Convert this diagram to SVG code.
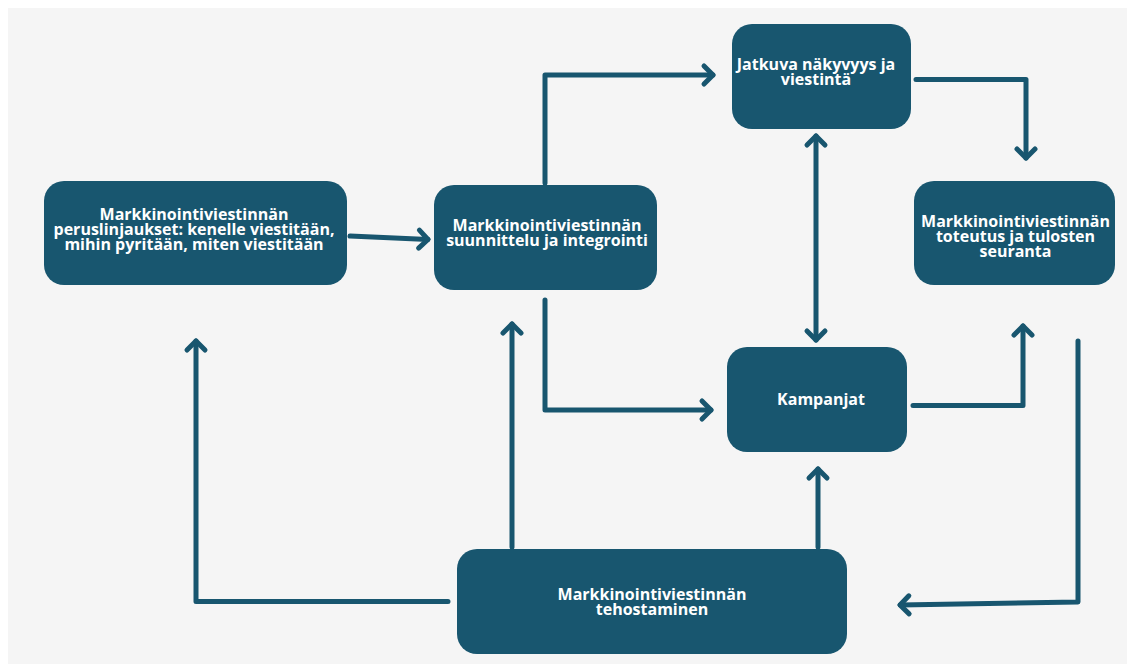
<svg xmlns="http://www.w3.org/2000/svg" width="1127" height="664" viewBox="0 0 1127 664">
<style>
.box{fill:#18566f}
.t{font-family:"Open Sans","Noto Sans",sans-serif;font-weight:700;font-size:16px;fill:#ffffff;text-anchor:middle}
.c{fill:none;stroke:#18566f;stroke-width:5;stroke-linecap:round;stroke-linejoin:round}
</style>
<defs>
<marker id="ah" markerUnits="userSpaceOnUse" viewBox="-15 -15 30 30" markerWidth="30" markerHeight="30" refX="0" refY="0" orient="auto-start-reverse" overflow="visible">
<path d="M-9,-9 L0,0 L-9,9" fill="none" stroke="#18566f" stroke-width="5" stroke-linecap="round" stroke-linejoin="round"/>
</marker>
</defs>
<rect width="1127" height="664" fill="#ffffff"/>
<rect x="8" y="8" width="1119" height="656" fill="#f5f5f5"/>
<g id="connectors">
<path class="c" d="M350,236 L428,239.5" marker-end="url(#ah)"/>
<path class="c" d="M545,183 L545,75 L713,75" marker-end="url(#ah)"/>
<path class="c" d="M916,79.5 L1026,79.5 L1026,158" marker-end="url(#ah)"/>
<path class="c" d="M816,136 L816,340" marker-start="url(#ah)" marker-end="url(#ah)"/>
<path class="c" d="M545,300 L545,410 L711,410" marker-end="url(#ah)"/>
<path class="c" d="M913,405.5 L1023,405.5 L1023,326" marker-end="url(#ah)"/>
<path class="c" d="M1078,341 L1078,602 L900,605" marker-end="url(#ah)"/>
<path class="c" d="M448,601.5 L196,601.5 L196,341" marker-end="url(#ah)"/>
<path class="c" d="M512,547 L512,324" marker-end="url(#ah)"/>
<path class="c" d="M818,547 L818,469" marker-end="url(#ah)"/>
</g>
<g id="node-peruslinjaukset">
<rect class="box" x="44" y="181" width="303" height="104" rx="20"/>
<text class="t"><tspan x="194" y="220">Markkinointiviestinnän</tspan><tspan x="194" y="235">peruslinjaukset: kenelle viestitään,</tspan><tspan x="194" y="249.5">mihin pyritään, miten viestitään</tspan></text>
</g>
<g id="node-suunnittelu">
<rect class="box" x="434" y="185" width="223" height="105" rx="20"/>
<text class="t"><tspan x="547" y="231">Markkinointiviestinnän</tspan><tspan x="547" y="245.5">suunnittelu ja integrointi</tspan></text>
</g>
<g id="node-jatkuva">
<rect class="box" x="732" y="24" width="179" height="105" rx="20"/>
<text class="t"><tspan x="816" y="70">Jatkuva näkyvyys ja</tspan><tspan x="816" y="84.5">viestintä</tspan></text>
</g>
<g id="node-toteutus">
<rect class="box" x="914" y="181" width="201" height="104" rx="20"/>
<text class="t"><tspan x="1015.5" y="227.3">Markkinointiviestinnän</tspan><tspan x="1015.5" y="242.3">toteutus ja tulosten</tspan><tspan x="1015.5" y="257.3">seuranta</tspan></text>
</g>
<g id="node-kampanjat">
<rect class="box" x="727" y="347" width="180" height="105" rx="20"/>
<text class="t"><tspan x="821" y="405">Kampanjat</tspan></text>
</g>
<g id="node-tehostaminen">
<rect class="box" x="457" y="549" width="390" height="105" rx="20"/>
<text class="t"><tspan x="652" y="600">Markkinointiviestinnän</tspan><tspan x="652" y="615">tehostaminen</tspan></text>
</g>
</svg>
